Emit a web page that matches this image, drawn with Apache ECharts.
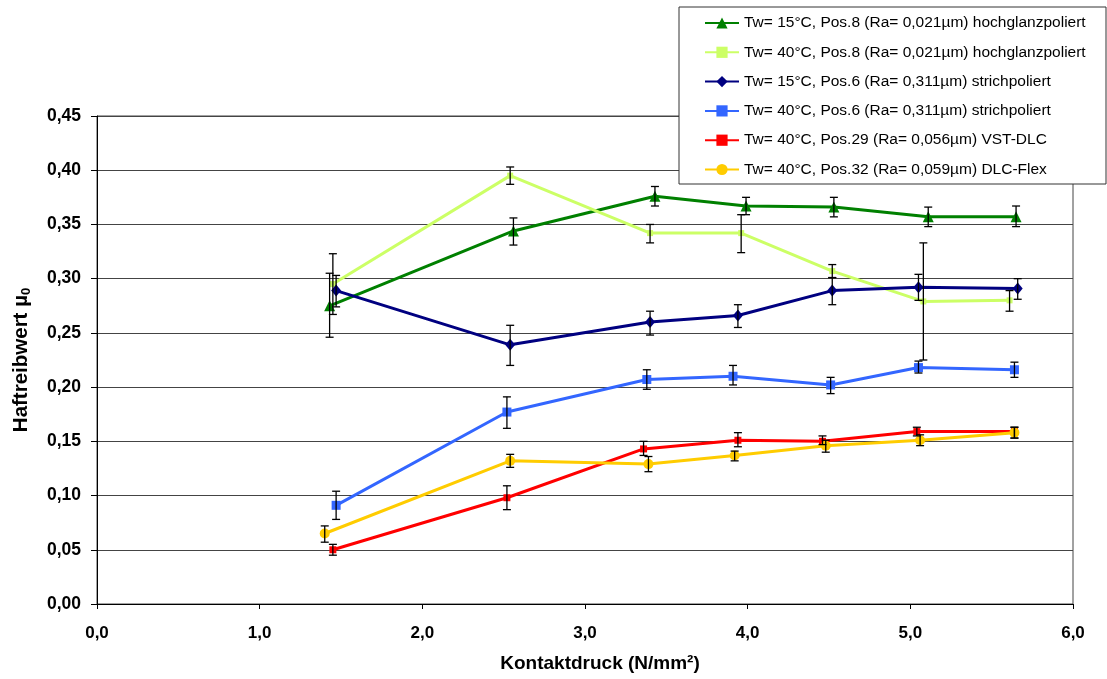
<!DOCTYPE html>
<html lang="de">
<head>
    <meta charset="UTF-8">
    <title>Haftreibwert</title>
    <script type="text/javascript" src="https://cdn.jsdelivr.net/npm/echarts@6/dist/echarts.min.js"></script>
    <style>
        body { margin: 0; background: #fff; }
        #chart1 { width: 1107px; height: 679px; }
    </style>
</head>
<body>
<div id="chart1"></div>
</body>
<script type="text/javascript">
    // Namen
    var names = [
        'Tw= 15°C, Pos.8 (Ra= 0,021µm) hochglanzpoliert',
        'Tw= 40°C, Pos.8 (Ra= 0,021µm) hochglanzpoliert',
        'Tw= 15°C, Pos.6 (Ra= 0,311µm) strichpoliert',
        'Tw= 40°C, Pos.6 (Ra= 0,311µm) strichpoliert',
        'Tw= 40°C, Pos.29 (Ra= 0,056µm) VST-DLC',
        'Tw= 40°C, Pos.32 (Ra= 0,059µm) DLC-Flex'
    ];

    // Tw=15 Pos.8
    var x1 = [1.43, 2.56, 3.43, 3.99, 4.53, 5.11, 5.65];
    var y1 = [0.275, 0.344, 0.376, 0.367, 0.366, 0.357, 0.357];
    var lo1 = [0.246, 0.331, 0.367, 0.359, 0.357, 0.348, 0.348];
    var hi1 = [0.305, 0.356, 0.385, 0.375, 0.375, 0.366, 0.367];

    // Tw=40 Pos.8
    var x2 = [1.45, 2.54, 3.40, 3.96, 4.52, 5.08, 5.61];
    var y2 = [0.295, 0.395, 0.342, 0.342, 0.307, 0.279, 0.280];
    var lo2 = [0.267, 0.387, 0.333, 0.324, 0.301, 0.225, 0.270];
    var hi2 = [0.323, 0.403, 0.350, 0.359, 0.313, 0.333, 0.289];

    // Tw=15 Pos.6
    var x3 = [1.47, 2.54, 3.40, 3.94, 4.52, 5.05, 5.66];
    var y3 = [0.289, 0.239, 0.260, 0.266, 0.289, 0.292, 0.291];
    var lo3 = [0.274, 0.220, 0.248, 0.255, 0.276, 0.280, 0.281];
    var hi3 = [0.303, 0.257, 0.270, 0.276, 0.301, 0.304, 0.300];

    // Tw=40 Pos.6
    var x4 = [1.47, 2.52, 3.38, 3.91, 4.51, 5.05, 5.64];
    var y4 = [0.091, 0.177, 0.207, 0.210, 0.202, 0.218, 0.216];
    var lo4 = [0.078, 0.162, 0.198, 0.202, 0.194, 0.213, 0.209];
    var hi4 = [0.104, 0.191, 0.216, 0.220, 0.209, 0.224, 0.223];

    // Tw=40 Pos.29
    var x5 = [1.45, 2.52, 3.36, 3.94, 4.46, 5.04, 5.64];
    var y5 = [0.050, 0.098, 0.143, 0.151, 0.150, 0.159, 0.159];
    var lo5 = [0.045, 0.087, 0.137, 0.145, 0.147, 0.155, 0.153];
    var hi5 = [0.055, 0.109, 0.150, 0.158, 0.155, 0.163, 0.163];

    // Tw=40 Pos.32
    var x6 = [1.40, 2.54, 3.39, 3.92, 4.48, 5.06, 5.64];
    var y6 = [0.065, 0.132, 0.129, 0.137, 0.146, 0.151, 0.158];
    var lo6 = [0.057, 0.126, 0.122, 0.132, 0.140, 0.146, 0.153];
    var hi6 = [0.072, 0.138, 0.136, 0.141, 0.151, 0.156, 0.163];

    var colors = ['#008000', '#ccff66', '#000080', '#3366ff', '#ff0000', '#ffcc00'];
    var symbols = ['triangle', 'rect', 'diamond', 'rect', 'rect', 'circle'];
    var symbolSizes = [11, 6, [10, 12], 9, 7, 10];

    var allX = [x1, x2, x3, x4, x5, x6];
    var allY = [y1, y2, y3, y4, y5, y6];
    var allLo = [lo1, lo2, lo3, lo4, lo5, lo6];
    var allHi = [hi1, hi2, hi3, hi4, hi5, hi6];

    var font = 'Liberation Sans, Arial, sans-serif';

    function komma(v, n) {
        return v.toFixed(n).replace('.', ',');
    }

    // Fehlerbalken
    function errorBar(params, api) {
        var p1 = api.coord([api.value(0), api.value(1)]);
        var p2 = api.coord([api.value(0), api.value(2)]);
        var w = 4;
        var style = {stroke: '#000', lineWidth: 1.3};
        return {
            type: 'group',
            children: [
                {type: 'line', shape: {x1: p1[0], y1: p1[1], x2: p2[0], y2: p2[1]}, style: style},
                {type: 'line', shape: {x1: p1[0] - w, y1: p1[1], x2: p1[0] + w, y2: p1[1]}, style: style},
                {type: 'line', shape: {x1: p2[0] - w, y1: p2[1], x2: p2[0] + w, y2: p2[1]}, style: style}
            ]
        };
    }

    var series = [];
    for (var i = 0; i < 6; i++) {
        var line = [];
        var err = [];
        for (var j = 0; j < allX[i].length; j++) {
            line.push([allX[i][j], allY[i][j]]);
            err.push([allX[i][j], allLo[i][j], allHi[i][j]]);
        }
        series.push({
            name: names[i],
            type: 'line',
            data: line,
            symbol: symbols[i],
            symbolSize: symbolSizes[i],
            showAllSymbol: true,
            color: colors[i],
            lineStyle: {width: 3, color: colors[i]},
            itemStyle: {color: colors[i]},
            z: 2 + i
        });
        series.push({
            type: 'custom',
            renderItem: errorBar,
            data: err,
            encode: {x: 0, y: [1, 2]},
            silent: true,
            z: 10
        });
    }

    var myChart = echarts.init(document.getElementById('chart1'));
    var option = {
        animation: false,
        textStyle: {fontFamily: font},
        grid: {
            left: 97, right: 34, top: 116, bottom: 75,
            show: true, borderColor: '#444', borderWidth: 1, backgroundColor: '#fff'
        },
        graphic: [{
            type: 'rect',
            z: 100,
            shape: {x: 679, y: 7, width: 427, height: 177},
            style: {fill: '#fff', stroke: '#333', lineWidth: 1}
        }],
        legend: {
            data: names,
            orient: 'vertical',
            left: 704,
            top: 15,
            z: 101,
            padding: 0,
            itemWidth: 34,
            itemHeight: 14,
            itemGap: 13.3,
            textStyle: {fontFamily: font, fontSize: 15.5, color: '#000', lineHeight: 16}
        },
        xAxis: {
            type: 'value',
            min: 0, max: 6, interval: 1,
            name: 'Kontaktdruck (N/mm²)',
            nameLocation: 'middle',
            nameGap: 50,
            nameTextStyle: {fontFamily: font, fontSize: 19, fontWeight: 'bold', color: '#000', padding: [0, 0, 0, 30]},
            axisLine: {lineStyle: {color: '#000', width: 1}},
            axisTick: {show: true, length: 5, lineStyle: {color: '#000'}},
            axisLabel: {
                margin: 21,
                fontFamily: font, fontSize: 17, fontWeight: 'bold', color: '#000',
                formatter: function (v) { return komma(v, 1); }
            },
            splitLine: {show: false}
        },
        yAxis: {
            type: 'value',
            min: 0, max: 0.45, interval: 0.05,
            name: '{a|Haftreibwert µ}{s|0}',
            nameLocation: 'middle',
            nameGap: 64,
            nameTextStyle: {
                color: '#000',
                rich: {
                    a: {fontFamily: font, fontSize: 20.5, fontWeight: 'bold', color: '#000', lineHeight: 24, verticalAlign: 'middle'},
                    s: {fontFamily: font, fontSize: 13, fontWeight: 'bold', color: '#000', lineHeight: 24, verticalAlign: 'bottom'}
                }
            },
            axisLine: {show: true, lineStyle: {color: '#000', width: 1}},
            axisTick: {show: true, length: 6, lineStyle: {color: '#000'}},
            axisLabel: {
                margin: 16,
                fontFamily: font, fontSize: 17.5, fontWeight: 'bold', color: '#000',
                formatter: function (v) { return komma(v, 2); }
            },
            splitLine: {show: true, lineStyle: {color: '#444', width: 1}}
        },
        series: series
    };
    myChart.setOption(option);
</script>
</html>
